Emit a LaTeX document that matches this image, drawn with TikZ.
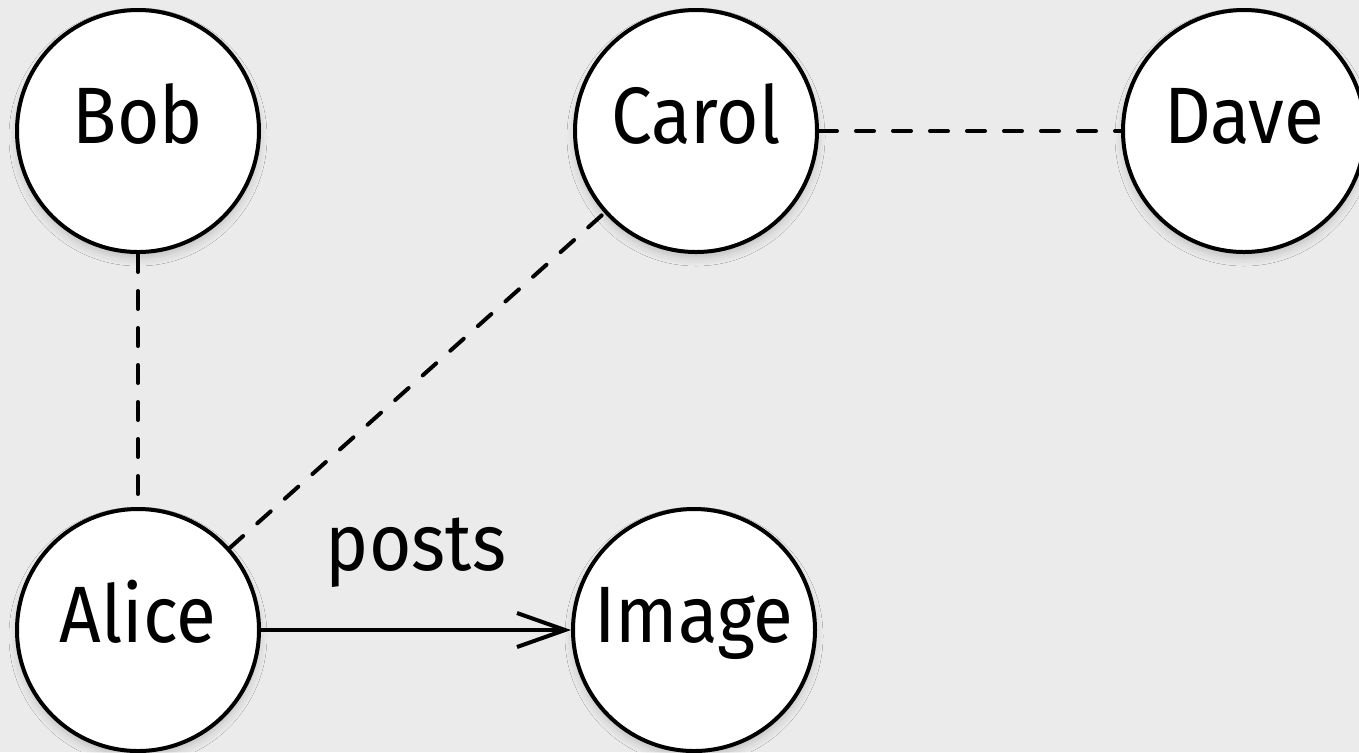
\documentclass[tikz,border=0pt]{standalone}
\usepackage{fontspec}
\newfontfamily\nodefont[FakeStretch=0.91]{Fira Sans}
\usetikzlibrary{arrows.meta,shadows.blur}
\definecolor{bggray}{HTML}{EBEBEB}
\tikzset{
  x=0.5pt, y=-0.5pt,
  person/.style={circle, draw=black, fill=white, line width=2pt, inner sep=0pt,
    minimum size=121pt, text height=18pt, text depth=6pt,
    font=\nodefont\fontsize{40}{48}\selectfont,
    blur shadow={shadow xshift=0pt, shadow yshift=-3pt, shadow blur steps=6, shadow opacity=18, shadow blur radius=4pt}},
  link/.style={line width=2pt, dash pattern=on 9pt off 9.5pt, line cap=round},
  postlink/.style={line width=2pt, -{Straight Barb[length=24pt, width=17pt, line width=2pt]}},
  edgelabel/.style={font=\nodefont\fontsize{40}{48}\selectfont, anchor=base}
}
\begin{document}
\begin{tikzpicture}
\fill[bggray] (0,0) rectangle (1359,752);
\useasboundingbox (0,0) rectangle (1359,752);
\node[person] (bob) at (138,131) {Bob};
\node[person] (carol) at (696,131) {Carol};
\node[person] (dave) at (1244,131) {Dave};
\node[person] (alice) at (138,630) {Alice};
\node[person] (image) at (694,630) {Image};
\draw[link] (bob) -- (alice);
\draw[link] (alice) -- (carol);
\draw[link] (carol) -- (dave);
\draw[postlink] (alice) -- node[edgelabel, yshift=30pt] (postslabel) {posts} (image);
\end{tikzpicture}
\end{document}
